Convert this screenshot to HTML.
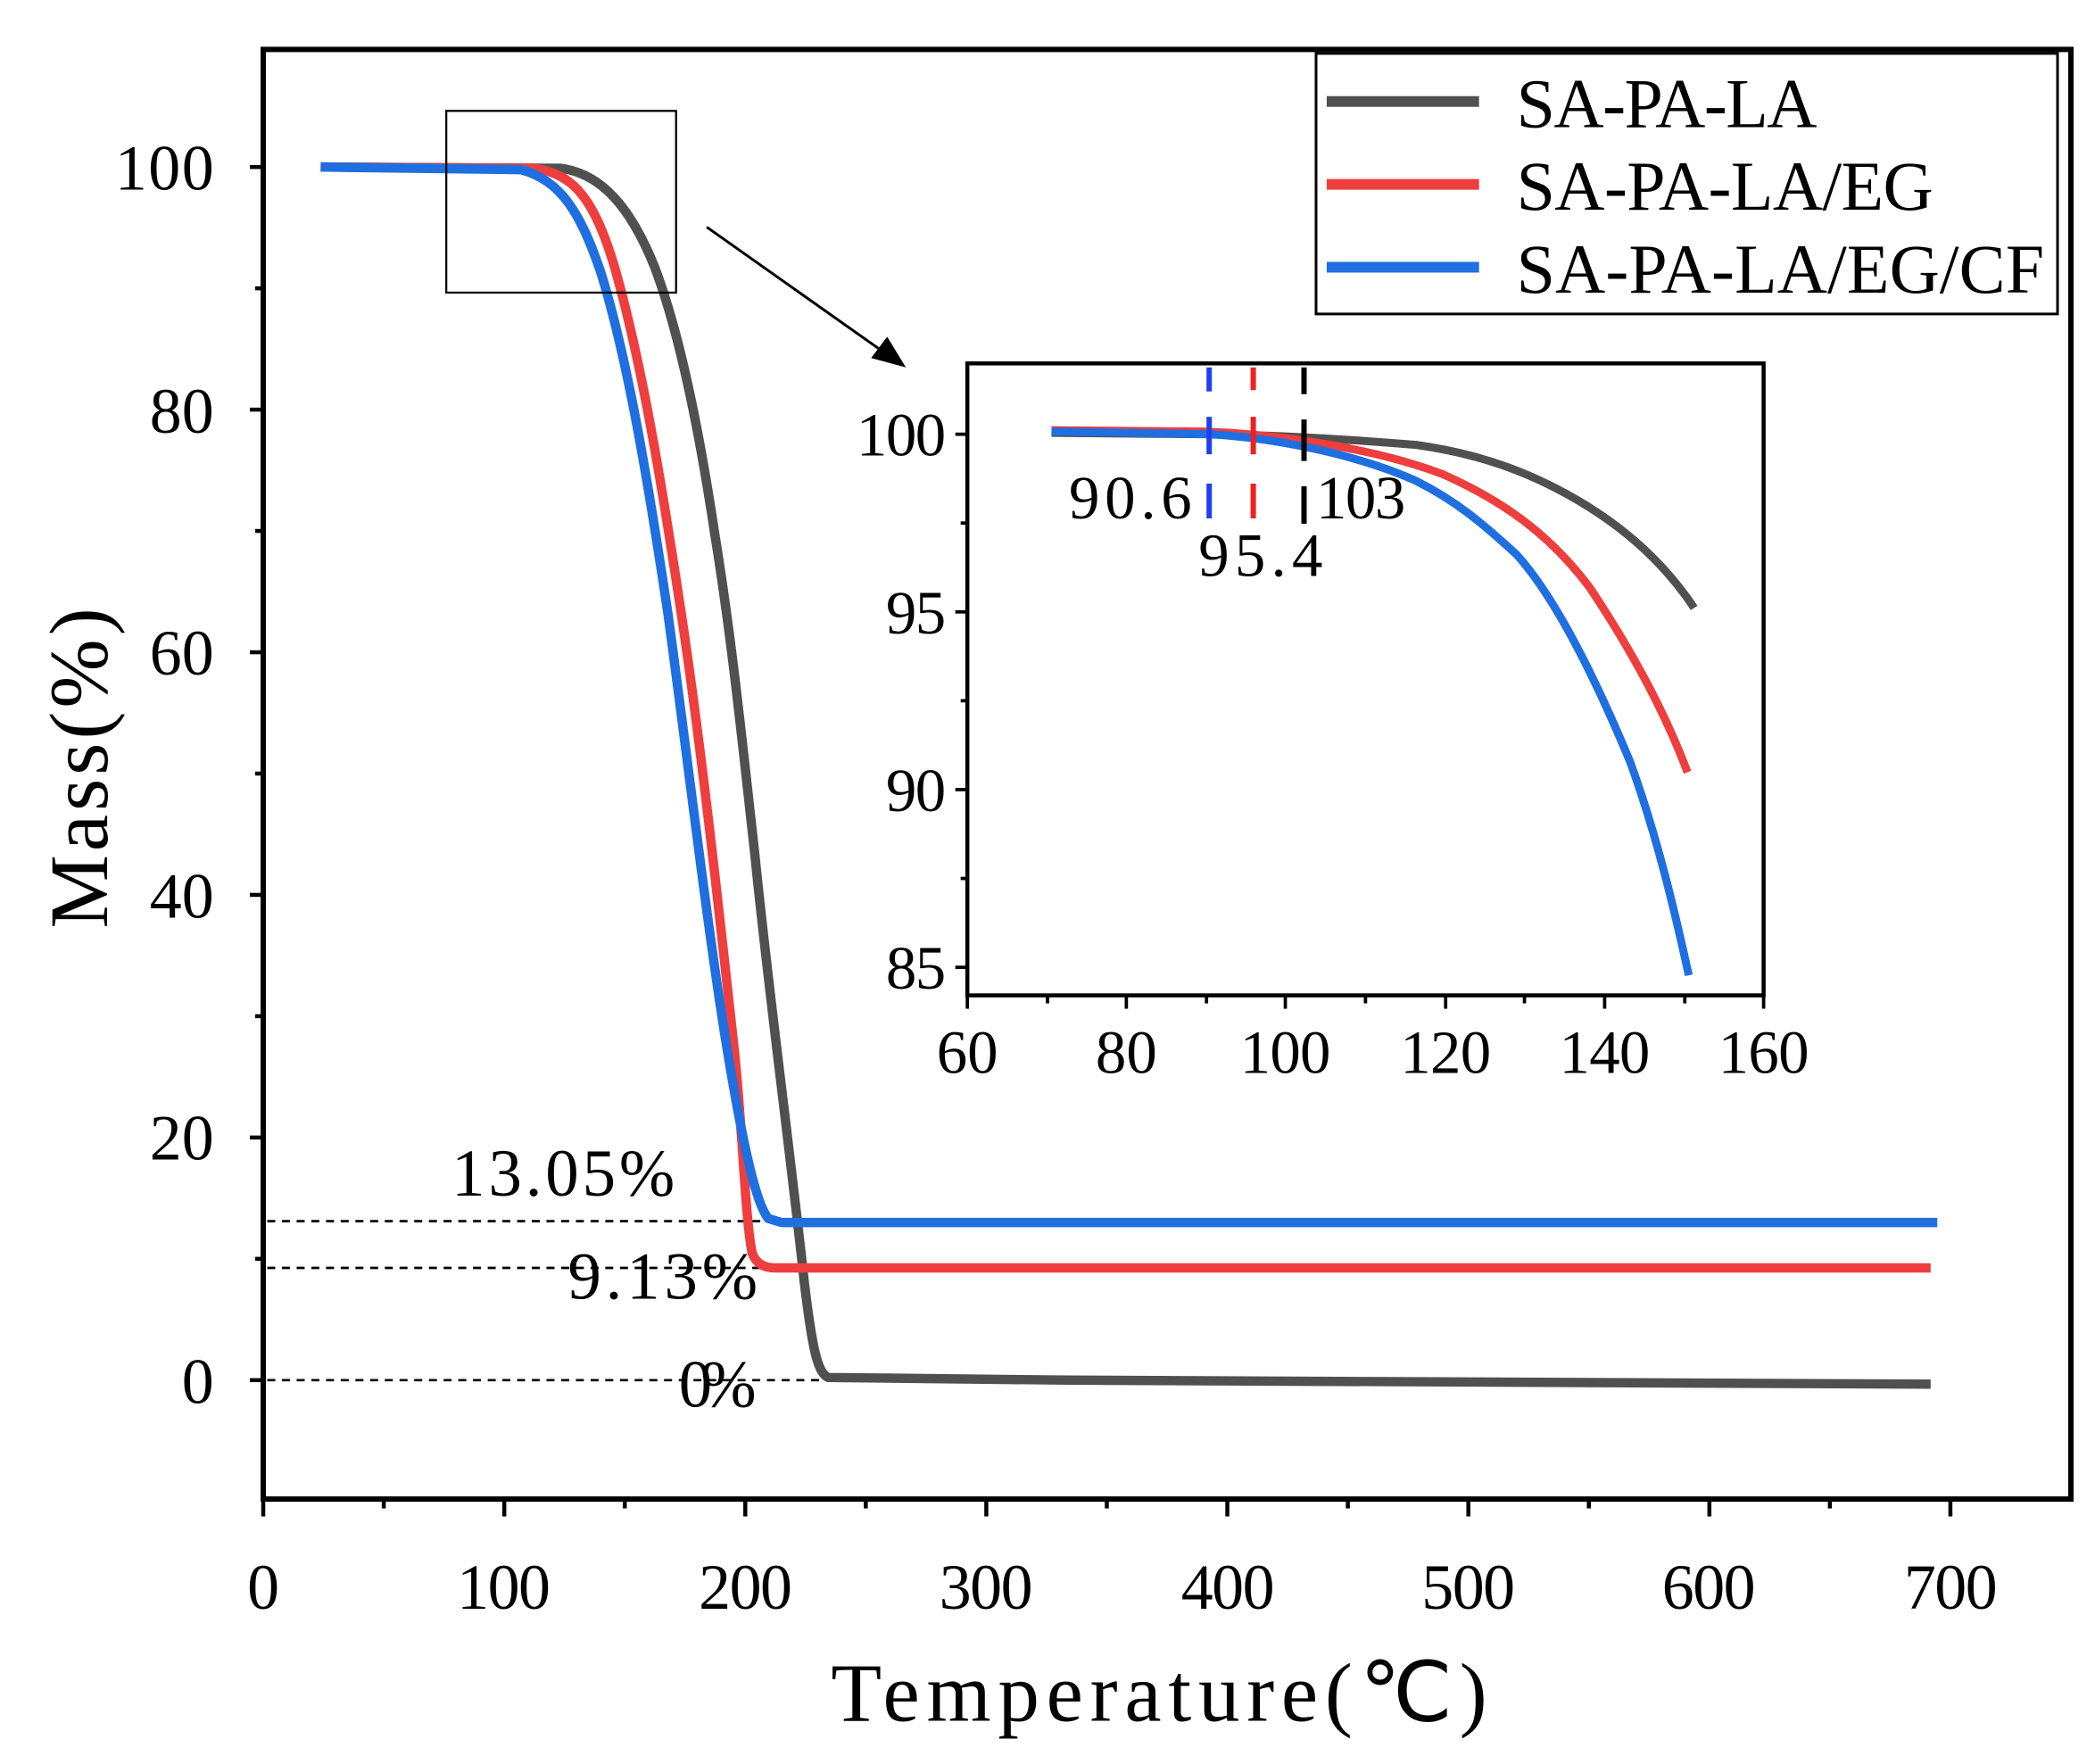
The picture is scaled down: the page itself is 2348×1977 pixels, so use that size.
<!DOCTYPE html>
<html><head><meta charset="utf-8"><style>html,body{margin:0;padding:0;background:#fff}svg{display:block}</style></head><body>
<svg width="2348" height="1977" viewBox="0 0 1568 1320.3" xmlns="http://www.w3.org/2000/svg" font-family="Liberation Serif, serif">
<rect width="1568" height="1321" fill="#fff"/>
<g stroke="#000" stroke-width="4" fill="none">
<rect x="197" y="37" width="1353" height="1085"/>
</g>
<g stroke="#000" stroke-width="3">
<line x1="197" y1="1122" x2="197" y2="1135"/><line x1="377.4" y1="1122" x2="377.4" y2="1135"/><line x1="557.8" y1="1122" x2="557.8" y2="1135"/><line x1="738.2" y1="1122" x2="738.2" y2="1135"/><line x1="918.6" y1="1122" x2="918.6" y2="1135"/><line x1="1099" y1="1122" x2="1099" y2="1135"/><line x1="1279.4" y1="1122" x2="1279.4" y2="1135"/><line x1="1459.8" y1="1122" x2="1459.8" y2="1135"/>
<line x1="287.2" y1="1122" x2="287.2" y2="1129"/><line x1="467.6" y1="1122" x2="467.6" y2="1129"/><line x1="648" y1="1122" x2="648" y2="1129"/><line x1="828.4" y1="1122" x2="828.4" y2="1129"/><line x1="1008.8" y1="1122" x2="1008.8" y2="1129"/><line x1="1189.2" y1="1122" x2="1189.2" y2="1129"/><line x1="1369.6" y1="1122" x2="1369.6" y2="1129"/>
<line x1="187" y1="1033" x2="197" y2="1033"/><line x1="187" y1="851.4" x2="197" y2="851.4"/><line x1="187" y1="669.8" x2="197" y2="669.8"/><line x1="187" y1="488.2" x2="197" y2="488.2"/><line x1="187" y1="306.6" x2="197" y2="306.6"/><line x1="187" y1="125" x2="197" y2="125"/>
<line x1="191" y1="942.2" x2="197" y2="942.2"/><line x1="191" y1="760.6" x2="197" y2="760.6"/><line x1="191" y1="579" x2="197" y2="579"/><line x1="191" y1="397.4" x2="197" y2="397.4"/><line x1="191" y1="215.8" x2="197" y2="215.8"/>
</g>
<g font-size="48" fill="#000" text-anchor="middle">
<text x="197" y="1204">0</text><text x="377" y="1204" textLength="70">100</text><text x="558" y="1204" textLength="70">200</text><text x="738" y="1204" textLength="70">300</text><text x="919" y="1204" textLength="70">400</text><text x="1099" y="1204" textLength="70">500</text><text x="1279" y="1204" textLength="70">600</text><text x="1460" y="1204" textLength="70">700</text>
</g>
<g font-size="48" fill="#000" text-anchor="end">
<text x="160" y="1050">0</text><text x="160" y="868" textLength="48">20</text><text x="160" y="687" textLength="48">40</text><text x="160" y="505" textLength="48">60</text><text x="160" y="324" textLength="48">80</text><text x="160" y="142" textLength="74">100</text>
</g>
<text x="622" y="1288" font-size="62" textLength="491">Temperature(℃)</text>
<text transform="translate(80,695) rotate(-90)" font-size="62" textLength="240">Mass(%)</text>
<g stroke="#000" stroke-width="1.8" stroke-dasharray="6,5">
<line x1="200" y1="914" x2="578" y2="914"/><line x1="200" y1="949" x2="570" y2="949"/><line x1="200" y1="1033" x2="625" y2="1033"/>
</g>
<g font-size="50" fill="#000">
<text x="338" y="895" textLength="167">13.05%</text><text x="425" y="972" textLength="142">9.13%</text><text x="508" y="1053" textLength="58">0%</text>
</g>
<g fill="none" stroke-width="7" stroke-linejoin="round">
<path stroke="#505050" d="M240,125 L420,126 C450,130 472,155 490,200 C505,240 520,300 535,400 C548,480 556,560 565,640 C575,740 590,850 602,960 C608,1010 612,1028 620,1031 L800,1033 L1445,1036"/>
<path stroke="#ee3e3e" d="M240,125 L400,126 C430,130 445,150 460,200 C480,270 495,360 510,460 C525,560 538,680 550,790 C556,850 558,915 563,938 C566,946 572,949 580,949 L1445,949"/>
<path stroke="#1f6fe0" d="M240,125 L390,127 C420,135 435,160 450,205 C470,270 485,360 500,460 C515,570 530,700 545,790 C555,850 565,900 575,912 L585,915 L1450,915"/>
</g>
<rect x="334" y="83" width="172" height="136" fill="none" stroke="#000" stroke-width="1.5"/>
<line x1="529" y1="170" x2="662" y2="264" stroke="#000" stroke-width="2"/>
<polygon points="678,275 652,268 664,252" fill="#000"/>
<rect x="985" y="40" width="555" height="195" fill="#fff" stroke="#000" stroke-width="2"/>
<g stroke-width="8"><line x1="993" y1="76" x2="1107" y2="76" stroke="#505050"/><line x1="993" y1="138" x2="1107" y2="138" stroke="#ee3e3e"/><line x1="993" y1="200" x2="1107" y2="200" stroke="#1f6fe0"/></g>
<g font-size="52" fill="#000"><text x="1135" y="95" textLength="225">SA-PA-LA</text><text x="1135" y="157" textLength="312">SA-PA-LA/EG</text><text x="1135" y="219" textLength="395">SA-PA-LA/EG/CF</text></g>
<rect x="724" y="272" width="596" height="473" fill="#fff" stroke="#000" stroke-width="3"/>
<g stroke="#000" stroke-width="2.5">
<line x1="724" y1="745" x2="724" y2="755"/><line x1="843" y1="745" x2="843" y2="755"/><line x1="962" y1="745" x2="962" y2="755"/><line x1="1082" y1="745" x2="1082" y2="755"/><line x1="1201" y1="745" x2="1201" y2="755"/><line x1="1320" y1="745" x2="1320" y2="755"/>
<line x1="784" y1="745" x2="784" y2="751"/><line x1="903" y1="745" x2="903" y2="751"/><line x1="1022" y1="745" x2="1022" y2="751"/><line x1="1141" y1="745" x2="1141" y2="751"/><line x1="1261" y1="745" x2="1261" y2="751"/>
<line x1="715" y1="325" x2="724" y2="325"/><line x1="715" y1="458" x2="724" y2="458"/><line x1="715" y1="591" x2="724" y2="591"/><line x1="715" y1="724" x2="724" y2="724"/>
<line x1="719" y1="391.5" x2="724" y2="391.5"/><line x1="719" y1="524.5" x2="724" y2="524.5"/><line x1="719" y1="657.5" x2="724" y2="657.5"/>
</g>
<g font-size="46" fill="#000" text-anchor="middle">
<text x="724" y="803" textLength="46">60</text><text x="843" y="803" textLength="46">80</text><text x="962" y="803" textLength="68">100</text><text x="1082" y="803" textLength="68">120</text><text x="1201" y="803" textLength="68">140</text><text x="1320" y="803" textLength="68">160</text>
</g>
<g font-size="46" fill="#000" text-anchor="end">
<text x="708" y="341" textLength="67">100</text><text x="708" y="474" textLength="45">95</text><text x="708" y="607" textLength="45">90</text><text x="708" y="740" textLength="45">85</text>
</g>
<g fill="none" stroke-width="6" stroke-linejoin="round">
<path stroke="#505050" d="M787,324 L900,325 C940,325 1000,328 1060,333 C1110,340 1150,355 1190,380 C1225,402 1250,428 1268,455"/>
<path stroke="#ee3e3e" d="M787,322 L900,323 C960,325 1030,336 1080,355 C1125,375 1160,400 1190,440 C1220,485 1245,530 1263,578"/>
<path stroke="#1f6fe0" d="M787,323 L905,325 C960,328 1020,342 1060,360 C1090,375 1110,392 1135,415 C1165,448 1195,510 1220,570 C1240,625 1253,680 1264,730"/>
</g>
<g stroke-width="4">
<g stroke="#2040f0"><line x1="905" y1="275" x2="905" y2="293"/><line x1="905" y1="312" x2="905" y2="340"/><line x1="905" y1="362" x2="905" y2="388"/></g>
<g stroke="#f02020"><line x1="938" y1="275" x2="938" y2="292"/><line x1="938" y1="312" x2="938" y2="340"/><line x1="938" y1="362" x2="938" y2="388"/></g>
<g stroke="#000"><line x1="976" y1="275" x2="976" y2="295"/><line x1="976" y1="314" x2="976" y2="345"/><line x1="976" y1="364" x2="976" y2="392"/></g>
</g>
<g font-size="46" fill="#000"><text x="800" y="388" textLength="92">90.6</text><text x="985" y="388" textLength="67">103</text><text x="897" y="431" textLength="93">95.4</text></g>
</svg>
</body></html>
